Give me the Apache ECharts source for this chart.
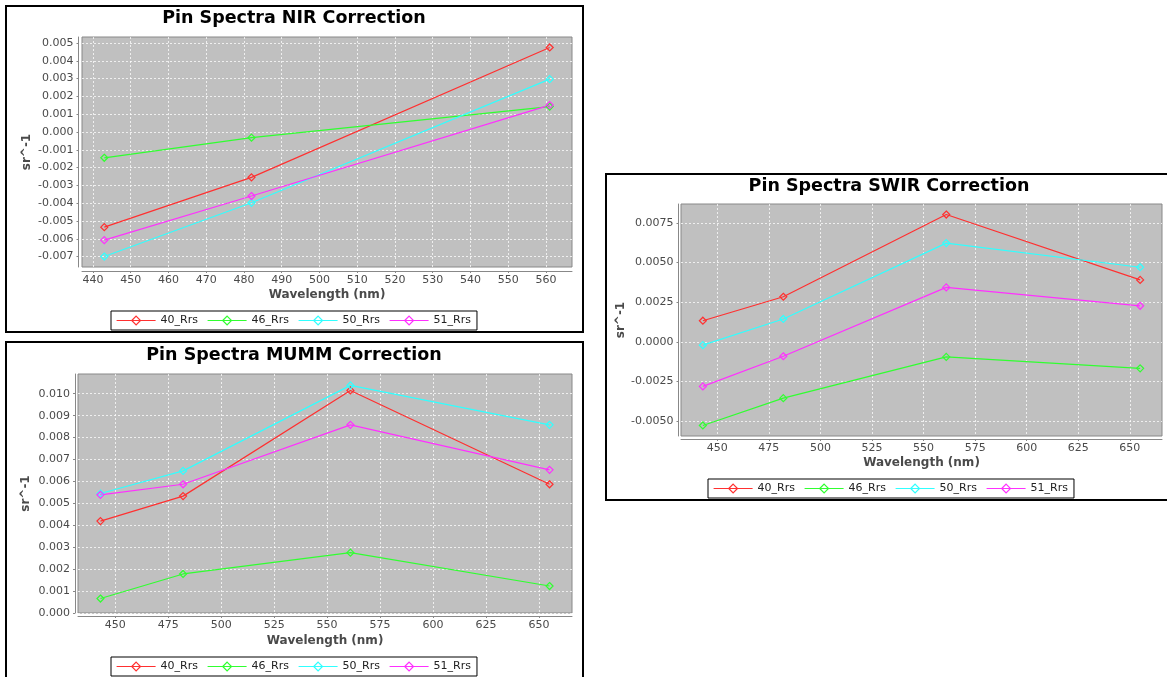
<!DOCTYPE html>
<html>
<head>
<meta charset="utf-8">
<script src="https://cdn.jsdelivr.net/npm/echarts@6/dist/echarts.min.js"></script>
<style>
  html, body { margin: 0; padding: 0; background: #ffffff; }
  #main { width: 1167px; height: 677px; }
</style>
</head>
<body>
<div id="main"></div>
<script>
// Series shared by all three correction panels
const seriesNames = ['40_Rrs', '46_Rrs', '50_Rrs', '51_Rrs'];
const seriesColors = ['#ff3030', '#30ff30', '#30ffff', '#ff30ff'];

// NIR correction (sr^-1)
const nirWavelengths = [443, 482, 561];
const nir40 = [-0.00535, -0.00255, 0.00475];
const nir46 = [-0.00145, -0.00032, 0.00143];
const nir50 = [-0.00700, -0.00398, 0.00297];
const nir51 = [-0.00608, -0.00360, 0.00151];

// MUMM correction (sr^-1)
const mummWavelengths = [443, 482, 561, 655];
const mumm40 = [0.00419, 0.00533, 0.01015, 0.00587];
const mumm46 = [0.00066, 0.00178, 0.00275, 0.00123];
const mumm50 = [0.00545, 0.00648, 0.01038, 0.00858];
const mumm51 = [0.00539, 0.00587, 0.00858, 0.00653];

// SWIR correction (sr^-1)
const swirWavelengths = [443, 482, 561, 655];
const swir40 = [0.00133, 0.00284, 0.00802, 0.00390];
const swir46 = [-0.00527, -0.00355, -0.00095, -0.00167];
const swir50 = [-0.00021, 0.00144, 0.00622, 0.00470];
const swir51 = [-0.00281, -0.00091, 0.00343, 0.00227];

// Tick values
const nirXTicks = [440, 450, 460, 470, 480, 490, 500, 510, 520, 530, 540, 550, 560];
const nirYTicks = [-0.007, -0.006, -0.005, -0.004, -0.003, -0.002, -0.001, 0.000, 0.001, 0.002, 0.003, 0.004, 0.005];
const mummXTicks = [450, 475, 500, 525, 550, 575, 600, 625, 650];
const mummYTicks = [0.000, 0.001, 0.002, 0.003, 0.004, 0.005, 0.006, 0.007, 0.008, 0.009, 0.010];
const swirXTicks = [450, 475, 500, 525, 550, 575, 600, 625, 650];
const swirYTicks = [-0.0050, -0.0025, 0.0000, 0.0025, 0.0050, 0.0075];

const FONT = 'DejaVu Sans';
const AXIS_GRAY = '#888888';
const LABEL_GRAY = '#4a4a4a';

// Axis range: data extent with a 5% margin on each side
function paddedRange(values, includeZero) {
  let lo = Math.min(...values), hi = Math.max(...values);
  if (includeZero) { lo = Math.min(lo, 0); hi = Math.max(hi, 0); }
  const pad = (hi - lo) * 0.05;
  return [includeZero && lo === 0 ? 0 : lo - pad, hi + pad];
}

const panels = [
  {
    title: 'Pin Spectra NIR Correction', titleX: 294, titleY: 18,
    grid: { left: 82, top: 37, width: 490, height: 230 },
    wl: nirWavelengths, ys: [nir40, nir46, nir50, nir51],
    xTicks: nirXTicks, yTicks: nirYTicks, yDigits: 3, includeZero: false,
    xOffset: 4, yOffset: 3.5, xNameGap: 18, yNameGap: 46,
    legend: { left: 111, top: 311 }
  },
  {
    title: 'Pin Spectra MUMM Correction', titleX: 294, titleY: 355,
    grid: { left: 78, top: 374, width: 494, height: 239 },
    wl: mummWavelengths, ys: [mumm40, mumm46, mumm50, mumm51],
    xTicks: mummXTicks, yTicks: mummYTicks, yDigits: 3, includeZero: true,
    xOffset: 3, yOffset: 3, xNameGap: 19, yNameGap: 43,
    legend: { left: 111, top: 657 }
  },
  {
    title: 'Pin Spectra SWIR Correction', titleX: 889, titleY: 186.5,
    grid: { left: 681, top: 204, width: 481, height: 232 },
    wl: swirWavelengths, ys: [swir40, swir46, swir50, swir51],
    xTicks: swirXTicks, yTicks: swirYTicks, yDigits: 4, includeZero: false,
    xOffset: 3, yOffset: 2.5, xNameGap: 18, yNameGap: 52,
    legend: { left: 708, top: 479 }
  }
];

const option = {
  animation: false,
  backgroundColor: '#ffffff',
  grid: [], xAxis: [], yAxis: [], series: [], legend: [], graphic: []
};

// Panel frames
option.graphic.push(
  { type: 'rect', shape: { x: 6, y: 6, width: 577, height: 326 }, style: { fill: 'none', stroke: '#000', lineWidth: 2 }, z: 100 },
  { type: 'rect', shape: { x: 6, y: 342, width: 577, height: 400 }, style: { fill: 'none', stroke: '#000', lineWidth: 2 }, z: 100 },
  { type: 'rect', shape: { x: 606, y: 174, width: 580, height: 326 }, style: { fill: 'none', stroke: '#000', lineWidth: 2 }, z: 100 }
);

// Legend entries: the series line with a hollow diamond marker
const legendData = seriesNames.map((n, s) => ({
  name: n,
  itemStyle: { color: 'rgba(0,0,0,0)', borderColor: seriesColors[s], borderWidth: 1.2 },
  lineStyle: { color: seriesColors[s], width: 1.2 }
}));

panels.forEach((p, i) => {
  option.grid.push(Object.assign({
    show: true, backgroundColor: '#c0c0c0', borderColor: AXIS_GRAY, borderWidth: 1
  }, p.grid));

  option.graphic.push({
    type: 'text', x: p.titleX, y: p.titleY,
    style: { text: p.title, font: 'bold 17.5px "' + FONT + '"', fill: '#000', align: 'center', verticalAlign: 'middle' }
  });

  const xr = paddedRange(p.wl, false);
  const yr = paddedRange([].concat(...p.ys), p.includeZero);

  option.xAxis.push({
    type: 'value', gridIndex: i, min: xr[0], max: xr[1], offset: p.xOffset,
    name: 'Wavelength (nm)', nameLocation: 'middle', nameGap: p.xNameGap,
    nameTextStyle: { fontFamily: FONT, fontWeight: 'bold', fontSize: 12, color: LABEL_GRAY },
    axisLine: { show: true, onZero: false, lineStyle: { color: AXIS_GRAY, width: 1 } },
    axisTick: { show: true, length: 2, customValues: p.xTicks, lineStyle: { color: AXIS_GRAY } },
    axisLabel: { customValues: p.xTicks, margin: 4, fontFamily: FONT, fontSize: 11, color: LABEL_GRAY,
                 formatter: v => String(Math.round(v)) },
    splitLine: { show: true, lineStyle: { color: 'rgba(255,255,255,0.75)', width: 1, type: [2, 2] } }
  });

  option.yAxis.push({
    type: 'value', gridIndex: i, min: yr[0], max: yr[1], offset: p.yOffset,
    name: 'sr^-1', nameLocation: 'middle', nameGap: p.yNameGap,
    nameTextStyle: { fontFamily: FONT, fontWeight: 'bold', fontSize: 12, color: LABEL_GRAY },
    axisLine: { show: true, onZero: false, lineStyle: { color: AXIS_GRAY, width: 1 } },
    axisTick: { show: true, length: 2, customValues: p.yTicks, lineStyle: { color: AXIS_GRAY } },
    axisLabel: { customValues: p.yTicks, margin: 5, fontFamily: FONT, fontSize: 11, color: LABEL_GRAY,
                 formatter: v => (Math.abs(v) < 1e-12 ? 0 : v).toFixed(p.yDigits) },
    splitLine: { show: true, lineStyle: { color: 'rgba(255,255,255,0.75)', width: 1, type: [2, 2] } }
  });

  p.ys.forEach((vals, s) => {
    option.series.push({
      type: 'line', name: seriesNames[s], xAxisIndex: i, yAxisIndex: i,
      data: p.wl.map((w, k) => [w, vals[k]]),
      symbol: 'diamond', symbolSize: 7,
      lineStyle: { color: seriesColors[s], width: 1.2 },
      itemStyle: { color: 'rgba(0,0,0,0)', borderColor: seriesColors[s], borderWidth: 1.2 },
      emphasis: { disabled: true }
    });
  });

  option.legend.push({
    left: p.legend.left, top: p.legend.top,
    data: legendData, orient: 'horizontal',
    itemWidth: 39, itemHeight: 11, itemGap: 9,
    padding: [4, 6, 4, 5], borderColor: '#000', borderWidth: 1, backgroundColor: '#fff',
    textStyle: { fontFamily: FONT, fontSize: 11, color: '#222' },
    selectedMode: false
  });
});

const chart = echarts.init(document.getElementById('main'), null, { renderer: 'canvas' });
chart.setOption(option);
</script>
</body>
</html>
